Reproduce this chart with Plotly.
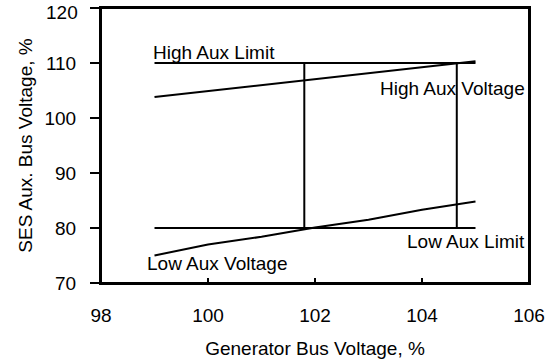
import plotly.graph_objects as go

# Data
gen_v = [99, 100, 101, 102, 103, 104, 105]
high_aux_voltage = [103.8, 104.9, 105.9, 107.0, 108.1, 109.2, 110.3]
low_aux_voltage = [75.0, 77.0, 78.4, 80.1, 81.5, 83.3, 84.8]
limit_x = [99, 105]
high_limit = [110, 110]
low_limit = [80, 80]
bound_left_x = [101.8, 101.8]
bound_right_x = [104.65, 104.65]
bound_y = [80, 110]
x_ticks = [98, 100, 102, 104, 106]
y_ticks = [70, 80, 90, 100, 110, 120]

FONT = "Liberation Sans"
FS = 19
line = dict(color="black", width=2)

fig = go.Figure()
for xs, ys in [(limit_x, high_limit), (gen_v, high_aux_voltage),
               (limit_x, low_limit), (gen_v, low_aux_voltage),
               (bound_left_x, bound_y), (bound_right_x, bound_y)]:
    fig.add_trace(go.Scatter(x=xs, y=ys, mode="lines", line=line,
                             showlegend=False, hoverinfo="skip"))

tf = dict(family=FONT, size=FS, color="black")
fig.add_annotation(x=98.95, y=110, text="High Aux Limit", xanchor="left",
                   yanchor="bottom", showarrow=False, font=tf, borderpad=0, yshift=-1)
fig.add_annotation(x=105.95, y=105.3, text="High Aux Voltage", xanchor="right",
                   yanchor="middle", showarrow=False, font=tf, borderpad=0)
fig.add_annotation(x=105.95, y=77.6, text="Low Aux Limit", xanchor="right",
                   yanchor="middle", showarrow=False, font=tf, borderpad=0)
fig.add_annotation(x=98.84, y=73.5, text="Low Aux Voltage", xanchor="left",
                   yanchor="middle", showarrow=False, font=tf, borderpad=0)

# top tick label kept inside the page (as in the reference)
y_ticktext = [str(v) if v != y_ticks[-1] else "" for v in y_ticks]
fig.add_annotation(xref="paper", x=0, y=y_ticks[-1], text=str(y_ticks[-1]),
                   xanchor="right", yanchor="middle", xshift=-22, yshift=-4,
                   showarrow=False, font=tf, borderpad=0)

# plot frame
fig.add_shape(type="rect", xref="x domain", yref="y domain", x0=0, x1=1, y0=0, y1=1,
              line=dict(color="black", width=2), layer="above")

fig.update_layout(
    width=551, height=364,
    margin=dict(l=101, r=22, t=8, b=81),
    paper_bgcolor="white", plot_bgcolor="white",
    font=dict(family=FONT, size=FS, color="black"),
    xaxis=dict(range=[98, 106], tickvals=x_ticks,
               ticks="inside", ticklen=5, tickwidth=2, tickcolor="black",
               showline=True, linecolor="black", linewidth=2, mirror=True,
               showgrid=False, zeroline=False, automargin=False,
               ticklabeloverflow="allow", ticklabelstandoff=14,
               title=dict(text="Generator Bus Voltage, %", standoff=17,
                          font=dict(family=FONT, size=FS)),
               tickfont=dict(family=FONT, size=FS)),
    yaxis=dict(range=[70, 120], tickvals=y_ticks, ticktext=y_ticktext,
               ticks="outside", ticklen=9, tickwidth=2, tickcolor="black",
               showline=True, linecolor="black", linewidth=2, mirror=True,
               showgrid=False, zeroline=False, automargin=False,
               ticklabeloverflow="allow", ticklabelstandoff=10,
               title=dict(text="SES Aux. Bus Voltage, %", standoff=7,
                          font=dict(family=FONT, size=FS)),
               tickfont=dict(family=FONT, size=FS)),
)
fig.write_html("out.html", config={"displayModeBar": False},
               post_script="document.body.style.margin='0';document.body.style.overflow='hidden';")
